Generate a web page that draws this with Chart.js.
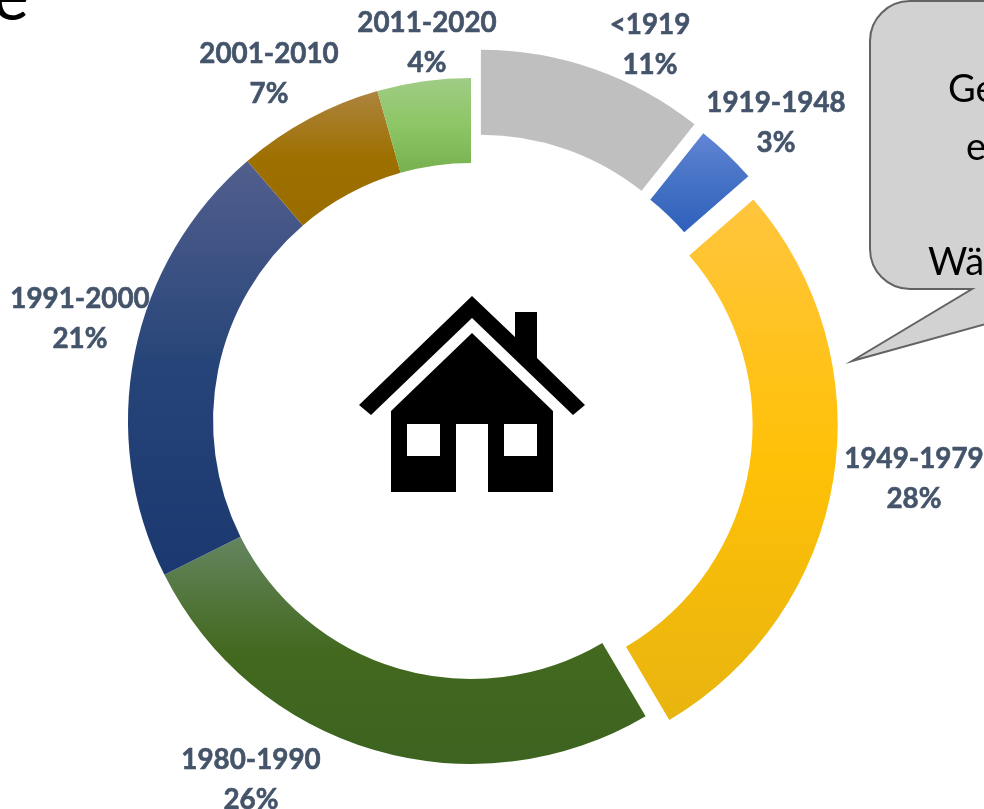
<!DOCTYPE html>
<html lang="de">
<head>
<meta charset="utf-8">
<title>Baualtersklassen</title>
<script src="https://cdn.jsdelivr.net/npm/chart.js@4"></script>
<style>
html,body{margin:0;padding:0;background:#fff;overflow:hidden}
canvas{display:block}
</style>
</head>
<body>
<canvas id="c" width="984" height="809"></canvas>
<script>
// --- data ---
const categories = ['<1919', '1919-1948', '1949-1979', '1980-1990', '1991-2000', '2001-2010', '2011-2020'];
const shares = [10.7, 2.9, 27.9, 26.1, 21.1, 6.9, 4.4];
const shareLabels = ['11%', '3%', '28%', '26%', '21%', '7%', '4%'];

// --- styles / layout ---
const gradientStops = [
  ['#BFBFBF', '#BFBFBF', '#BFBFBF'],
  ['#6285D6', '#4472C4', '#2F60BC'],
  ['#FFC53D', '#FFC107', '#E8B40F'],
  ['#658560', '#43691F', '#3C6320'],
  ['#525F8E', '#264478', '#1B3870'],
  ['#AD843F', '#9E7000', '#996C00'],
  ['#A0CC86', '#8DC665', '#77B04E']
];
const explodeDistance = [30, 27, 24, 0, 0, 0, 0];
const labelCentres = [[650, 25], [776, 103], [914, 459], [251, 760], [80, 299], [269, 54], [427, 23]];
const labelLineGap = 40;
const ringRadius = 343;
const cutoutShare = '75.2%';
const labelFont = 'bold 27.8px Lato';
const labelColor = '#44546A';

const housePaths = {
  roof: [[472,296],[515,337],[515,312],[537,312],[537,358],[585,405],[573,415],[472,318],[371,415],[359,405]],
  body: [[472,333],[553,411],[553,492],[488,492],[488,424],[456,424],[456,492],[391,492],[391,411]],
  windowA: [[407,424],[440,424],[440,456],[407,456]],
  windowB: [[504,424],[537,424],[537,456],[504,456]]
};

function midAngle(i) {
  const total = shares.reduce((a, b) => a + b, 0);
  let before = 0;
  for (let k = 0; k < i; k++) before += shares[k];
  return { start: before / total * 2 * Math.PI, end: (before + shares[i]) / total * 2 * Math.PI };
}

function sliceGradient(ctx) {
  if (ctx.type !== 'data' || !ctx.chart.chartArea) return '#ccc';
  const i = ctx.dataIndex;
  const area = ctx.chart.chartArea;
  const cy = (area.top + area.bottom) / 2;
  const inner = ringRadius * parseFloat(cutoutShare) / 100;
  const { start, end } = midAngle(i);
  const dy = -Math.cos((start + end) / 2) * explodeDistance[i];
  let top = Infinity, bottom = -Infinity;
  for (let s = 0; s <= 40; s++) {
    const a = start + (end - start) * s / 40;
    for (const r of [inner, ringRadius]) {
      const y = cy - Math.cos(a) * r + dy;
      top = Math.min(top, y);
      bottom = Math.max(bottom, y);
    }
  }
  const g = ctx.chart.ctx.createLinearGradient(0, top, 0, bottom);
  const st = gradientStops[i];
  g.addColorStop(0, st[0]);
  g.addColorStop(0.5, st[1]);
  g.addColorStop(1, st[2]);
  return g;
}

function fillPoly(c, pts, color) {
  c.beginPath();
  pts.forEach((p, k) => k ? c.lineTo(p[0], p[1]) : c.moveTo(p[0], p[1]));
  c.closePath();
  c.fillStyle = color;
  c.fill();
}

const explodePlugin = {
  id: 'explode',
  afterDatasetsUpdate(chart) {
    chart.getDatasetMeta(0).data.forEach((arc, i) => {
      const d = explodeDistance[i];
      if (!d) return;
      const mid = (arc.startAngle + arc.endAngle) / 2;
      arc.x += Math.cos(mid) * d;
      arc.y += Math.sin(mid) * d;
    });
  }
};

const decorPlugin = {
  id: 'decor',
  afterDraw(chart) {
    const c = chart.ctx;
    c.save();

    // category / share labels
    c.font = labelFont;
    c.fillStyle = labelColor;
    c.strokeStyle = labelColor;
    c.lineWidth = 0.6;
    c.textAlign = 'center';
    c.textBaseline = 'middle';
    categories.forEach((name, i) => {
      const [x, y] = labelCentres[i];
      c.fillText(name, x, y);
      c.strokeText(name, x, y);
      c.fillText(shareLabels[i], x, y + labelLineGap);
      c.strokeText(shareLabels[i], x, y + labelLineGap);
    });

    // house icon
    fillPoly(c, housePaths.roof, '#000');
    fillPoly(c, housePaths.body, '#000');
    fillPoly(c, housePaths.windowA, '#fff');
    fillPoly(c, housePaths.windowB, '#fff');

    // speech bubble, cut off by the right and top edges
    c.beginPath();
    c.moveTo(1000, 1);
    c.lineTo(910, 1);
    c.arcTo(870, 1, 870, 41, 40);
    c.lineTo(870, 249);
    c.arcTo(870, 289, 910, 289, 40);
    c.lineTo(972, 289);
    c.lineTo(852, 361);
    c.lineTo(1000, 320);
    c.closePath();
    c.fillStyle = '#D2D2D2';
    c.fill();
    c.strokeStyle = '#636363';
    c.lineWidth = 2;
    c.stroke();

    c.fillStyle = '#000';
    c.font = '38px Lato';
    c.textAlign = 'left';
    c.textBaseline = 'alphabetic';
    c.fillText('Ge', 948, 102);
    c.fillText('e', 966, 160);
    c.fillText('Wä', 928, 275);

    // remainder of a large title letter, cut off at the corner
    c.font = '68px Lato';
    c.fillText('e', -7, 20);
    c.restore();
  }
};

new Chart(document.getElementById('c'), {
  type: 'doughnut',
  data: {
    labels: categories,
    datasets: [{
      data: shares,
      backgroundColor: sliceGradient,
      borderWidth: 0,
      clip: false
    }]
  },
  plugins: [explodePlugin, decorPlugin],
  options: {
    responsive: false,
    animation: false,
    radius: ringRadius,
    cutout: cutoutShare,
    layout: { padding: { top: 33, right: 42, bottom: 0, left: 0 } },
    plugins: { legend: { display: false }, tooltip: { enabled: false } }
  }
});
</script>
</body>
</html>
